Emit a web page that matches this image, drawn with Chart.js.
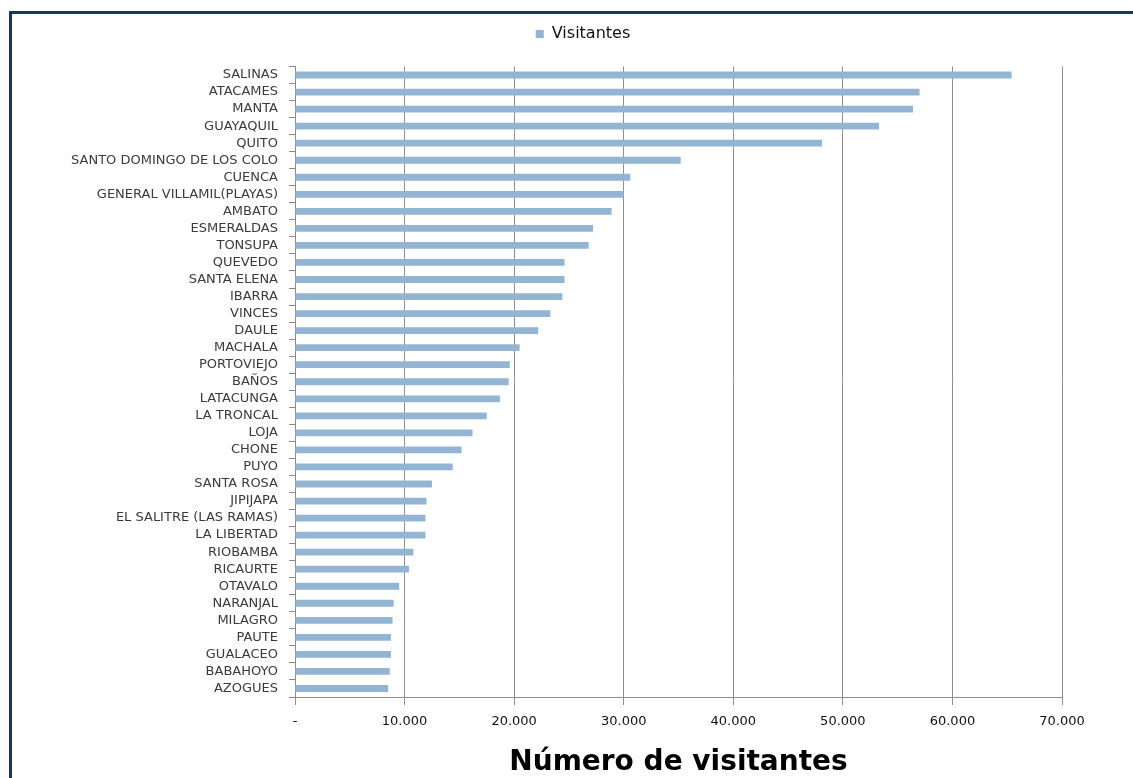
<!DOCTYPE html>
<html>
<head>
<meta charset="utf-8">
<script src="https://cdn.jsdelivr.net/npm/chart.js@4"></script>
<style>
  body { margin: 0; background: #fff; }
  #wrap { position: relative; width: 1133px; height: 778px; overflow: hidden; }
  #frame {
    position: absolute; left: 9px; top: 11px; right: -10px; bottom: -10px;
    border-top: 3px solid #1d3461; border-left: 3px solid #1d3461;
  }
  canvas { position: absolute; left: 0; top: 0; }
</style>
</head>
<body>
<div id="wrap">
  <div id="frame"></div>
  <canvas id="chart" width="1133" height="778"></canvas>
</div>
<script>
const destinos = [
  'SALINAS', 'ATACAMES', 'MANTA', 'GUAYAQUIL', 'QUITO',
  'SANTO DOMINGO DE LOS COLO', 'CUENCA', 'GENERAL VILLAMIL(PLAYAS)', 'AMBATO', 'ESMERALDAS',
  'TONSUPA', 'QUEVEDO', 'SANTA ELENA', 'IBARRA', 'VINCES',
  'DAULE', 'MACHALA', 'PORTOVIEJO', 'BAÑOS', 'LATACUNGA',
  'LA TRONCAL', 'LOJA', 'CHONE', 'PUYO', 'SANTA ROSA',
  'JIPIJAPA', 'EL SALITRE (LAS RAMAS)', 'LA LIBERTAD', 'RIOBAMBA', 'RICAURTE',
  'OTAVALO', 'NARANJAL', 'MILAGRO', 'PAUTE', 'GUALACEO',
  'BABAHOYO', 'AZOGUES'
];
const visitantes = [
  65400, 57000, 56400, 53300, 48100,
  35200, 30600, 30000, 28900, 27200,
  26800, 24600, 24600, 24400, 23300,
  22200, 20500, 19600, 19500, 18700,
  17500, 16200, 15200, 14400, 12500,
  12000, 11900, 11900, 10800, 10400,
  9500, 9000, 8900, 8750, 8750,
  8650, 8500
];
const xTickLabels = ['-', '10.000', '20.000', '30.000', '40.000', '50.000', '60.000', '70.000'];

const FONT = 'DejaVu Sans';

// extra room under the legend and a nudge to the right
const legendTweak = {
  id: 'legendTweak',
  beforeInit(chart) {
    const legend = chart.legend;
    const fit = legend.fit;
    legend.fit = function () {
      fit.call(this);
      this.height += 14.5;
    };
  },
  afterLayout(chart) {
    chart.legend.left += 52;
    chart.legend.right += 52;
  }
};

new Chart(document.getElementById('chart'), {
  type: 'bar',
  data: {
    labels: destinos,
    datasets: [{
      label: 'Visitantes',
      data: visitantes,
      backgroundColor: '#93b5d3',
      barPercentage: 0.4,
      categoryPercentage: 1
    }]
  },
  plugins: [legendTweak],
  options: {
    indexAxis: 'y',
    responsive: false,
    animation: false,
    devicePixelRatio: 1,
    layout: { padding: { top: 12, right: 71, left: 0, bottom: 0 } },
    plugins: {
      legend: {
        position: 'top',
        labels: {
          boxWidth: 8,
          boxHeight: 8,
          padding: 14,
          color: '#111',
          font: { family: FONT, size: 16 }
        }
      },
      tooltip: { enabled: false }
    },
    scales: {
      y: {
        afterFit(scale) { scale.width = 295; },
        grid: { drawOnChartArea: false, tickLength: 6, color: '#8a8a8a', offset: true },
        border: { color: '#8a8a8a' },
        ticks: {
          autoSkip: false,
          padding: 11,
          color: '#3a3a3a',
          font: { family: FONT, size: 13 }
        }
      },
      x: {
        min: 0,
        max: 70000,
        afterFit(scale) { scale.height = 81; },
        grid: { color: '#8f8f8f', tickLength: 8 },
        border: { color: '#8f8f8f' },
        ticks: {
          stepSize: 10000,
          padding: 9,
          color: '#111',
          font: { family: FONT, size: 13 },
          callback: (value, i) => xTickLabels[i]
        },
        title: {
          display: true,
          text: 'Número de visitantes',
          color: '#000',
          font: { family: FONT, size: 28, weight: 'bold' },
          padding: { top: 0, bottom: -2 }
        }
      }
    }
  }
});
</script>
</body>
</html>
